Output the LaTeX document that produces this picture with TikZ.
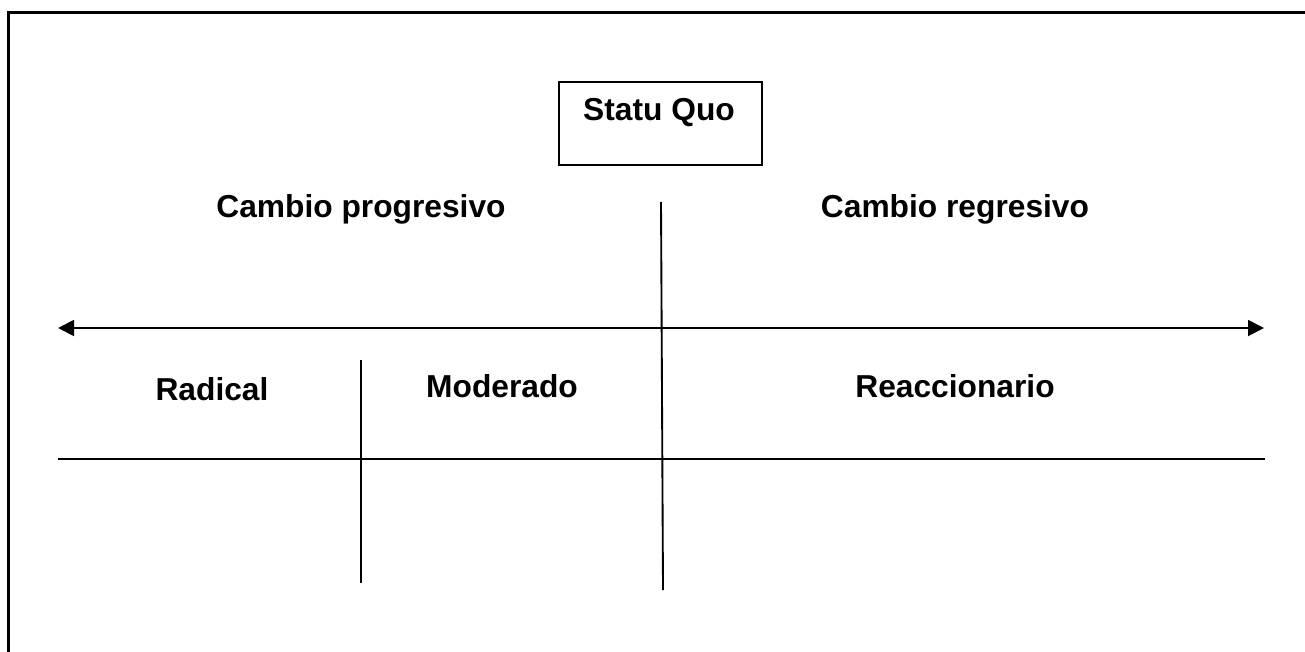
\documentclass[tikz,border=0pt]{standalone}
\usepackage{fontspec}
\setmainfont{Liberation Sans}
\usetikzlibrary{arrows.meta}
\begin{document}
\begin{tikzpicture}[x=0.75pt,y=-0.75pt,
  lbl/.style={font=\fontsize{23.8}{28}\selectfont\bfseries, anchor=base, inner sep=0pt},
  ln/.style={line width=1.4pt},
  frame/.style={line width=1.6pt}]
\useasboundingbox (0,0) rectangle (1305,652);
% outer frame (top and left edges)
\coordinate (ftr) at (1310,12.5);
\coordinate (ftl) at (8.5,12.5);
\coordinate (fbl) at (8.5,660);
\draw[frame] (ftr) -- (ftl) -- (fbl);
% Statu Quo box
\node[draw, line width=1.4pt, minimum width=203*0.75pt, minimum height=83*0.75pt, inner sep=0pt] (sq) at (660.5,123.5) {};
\node[lbl] (sqt) at (659,121) {Statu Quo};
% labels
\node[lbl] (cp) at (361,218) {Cambio progresivo};
\node[lbl] (cr) at (955,218) {Cambio regresivo};
\node[lbl] (rad) at (212,400) {Radical};
\node[lbl] (mod) at (502,397) {Moderado};
\node[lbl] (rea) at (955,397) {Reaccionario};
% axis
\coordinate (al) at (58,328);
\coordinate (ar) at (1264,328);
\draw[ln, {Triangle[length=12pt,width=12pt]}-{Triangle[length=12pt,width=12pt]}] (al) -- (ar);
% central vertical
\coordinate (vt) at (661,202);
\coordinate (vb) at (663,590);
\draw[ln] (vt) -- (vb);
% left vertical
\coordinate (lt) at (361,360);
\coordinate (lb) at (361,583);
\draw[ln] (lt) -- (lb);
% lower horizontal
\coordinate (hl) at (58,459);
\coordinate (hr) at (1265,459);
\draw[ln] (hl) -- (hr);
\end{tikzpicture}
\end{document}
